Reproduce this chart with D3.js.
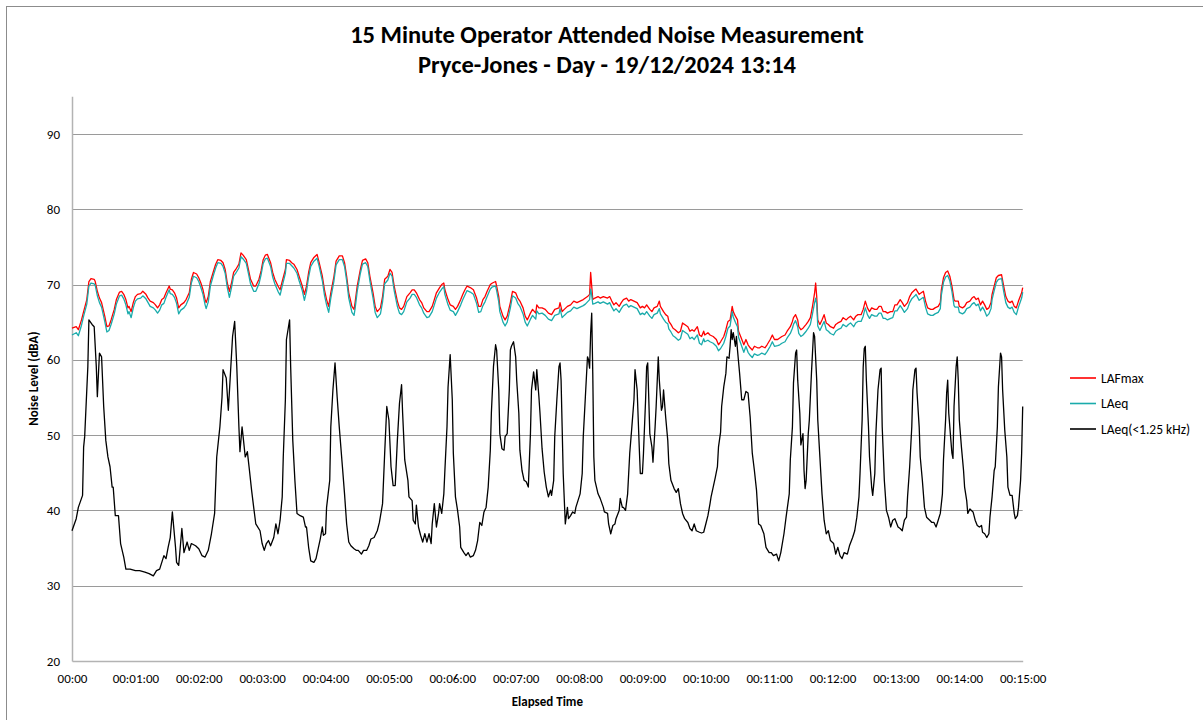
<!DOCTYPE html>
<html>
<head>
<meta charset="utf-8">
<script src="https://cdn.jsdelivr.net/npm/d3@7"></script>
<style>
  body { margin: 0; background: #fff; }
  svg { display: block; font-family: Carlito, Lato, "Liberation Sans", sans-serif; }
  .tick text { font-size: 13px; fill: #000; }
</style>
</head>
<body>
<div id="chart"></div>
<script>
// ---- data (seconds since start, dB) ----
const seriesNames = ['LAFmax', 'LAeq', 'LAeq(<1.25 kHz)'];
const yTicks = [20, 30, 40, 50, 60, 70, 80, 90];
const xTicks = d3.range(0, 901, 60);

// LAFmax / LAeq share one time base
const tMain = [
  0,4,6,9,11,14,16,18,21,22, 24,26,28,31,33,35,37,40,42,45,
  47,49,51,53,54,56,58,60,62,65, 67,70,72,74,77,79,81,83,85,87,
  89,92,93,95,97,99,101,103,106,108, 111,113,115,118,120,122,124,126,127,129,
  131,134,136,138,141,143,145,147,149,151, 153,155,158,160,162,165,167,169,172,174,
  177,179,181,183,185,188,190,192,195,197, 199,202,203,206,208,210,213,215,218,220,
  222,224,226,229,232,234,237,239,241,243, 245,248,250,253,256,258,260,262,265,267,
  268,270,273,275,278,280,282,285,287,289, 292,294,296,299,301,303,305,308,310,312,
  314,317,320,322,324,326,329,331,333,336, 338,341,343,345,348,350,352,353,356,358,
  361,363,365,368,370,372,374,377,380,383, 385,387,389,391,393,396,398,401,402,404,
  405,408,410,412,415,417,420,422,424,427, 429,431,434,436,439,440,442,445,448,451,
  454,457,461,462,464,466,469,472,475,478, 481,484,486,488,490,491,492,493,495,498,
  500,503,507,509,511,513,515,518,520,522, 525,527,529,532,535,538,540,542,544,547,
  549,551,554,556,557,560,562,564,565,567, 569,571,574,576,578,580,583,585,587,589,
  592,594,596,598,599,602,604,607,610,612, 614,617,619,621,623,625,626,628,630,631,
  633,636,638,640,642,644,646,649,651,653, 656,658,661,663,665,668,670,672,675,677,
  680,682,683,685,687,688,690,692,695,697, 699,701,703,704,705,706,708,710,712,714,
  716,718,721,723,725,728,730,733,735,737, 740,742,744,747,749,751,753,755,757,760,
  762,764,766,768,770,772,775,777,779,781, 784,786,788,791,793,795,798,799,802,804,
  806,808,810,813,815,817,820,822,823,825, 827,829,831,833,835,836,839,840,843,845,
  847,850,852,854,856,858,860,862,864,866, 868,870,871,873,875,877,880,882,884,886,
  888,890,892,894,896,899,900
];

const lafmax = [
  64.2,64.4,64.0,65.3,66.4,68.0,70.4,70.8,70.7,70.4, 69.1,68.2,67.6,65.8,64.4,64.5,65.3,66.7,68.0,69.0,
  69.1,68.7,68.0,66.9,67.1,66.4,67.6,68.4,68.7,68.8, 69.1,68.7,68.2,67.8,67.6,67.3,66.9,67.3,68.0,68.2,
  68.9,69.8,69.4,69.3,68.9,68.2,66.9,67.3,67.6,68.0, 68.9,70.7,71.6,71.4,70.9,70.2,69.3,68.0,67.6,68.4,
  70.4,71.8,72.7,73.3,73.2,72.9,72.0,70.2,69.1,70.2, 71.6,72.0,72.7,74.2,73.9,73.3,72.0,70.7,69.8,69.8,
  70.7,71.8,73.3,73.9,74.0,72.9,71.6,70.7,69.8,69.3, 70.4,72.0,73.3,73.2,72.9,72.7,72.0,71.1,69.8,68.7,
  69.8,71.6,72.9,73.6,74.0,72.9,71.1,69.3,68.0,67.1, 68.9,71.1,73.1,73.8,73.8,72.9,71.1,68.9,67.1,66.7,
  67.6,69.8,72.0,73.2,73.4,72.9,71.1,68.9,67.1,66.4, 66.9,68.4,70.7,71.1,72.0,71.6,69.8,67.8,66.9,66.7,
  67.1,68.4,68.9,69.3,69.3,68.9,68.0,67.6,66.9,66.4, 66.4,67.1,68.0,68.9,69.6,70.0,70.2,69.3,68.0,67.3,
  67.1,66.7,67.1,68.0,68.7,69.3,69.8,69.6,69.3,68.2, 67.1,67.1,68.0,68.4,69.1,70.0,70.2,70.4,69.8,68.4,
  67.1,65.8,65.3,65.8,67.6,69.1,68.9,68.2,67.8,66.9, 65.8,65.3,66.2,66.7,66.2,67.3,66.9,66.9,66.7,66.2,
  66.0,66.7,66.9,67.6,66.4,66.7,67.1,67.3,67.8,67.6, 67.8,68.0,68.2,68.4,68.7,71.6,69.8,68.0,68.2,68.4,
  68.2,68.4,68.2,68.4,67.8,67.3,67.6,67.1,67.6,68.0, 68.2,67.8,68.0,67.8,67.6,66.9,67.1,66.9,67.3,66.7,
  66.4,66.9,67.1,67.8,67.1,66.4,66.0,65.8,65.1,64.7, 64.2,64.0,63.6,63.8,64.9,64.7,64.4,63.8,64.0,63.8,
  64.4,63.3,63.1,63.8,63.3,63.6,63.3,63.1,62.7,62.0, 62.4,63.1,64.0,65.1,65.3,67.1,66.4,65.8,65.3,63.8,
  63.1,62.0,62.7,62.0,61.6,61.3,61.8,61.6,61.6,61.8, 61.6,62.0,62.7,63.3,62.7,62.7,62.9,63.1,63.3,63.8,
  64.4,65.1,65.6,66.0,65.3,64.4,64.0,64.2,64.7,65.1, 65.6,67.1,68.9,70.2,68.4,65.3,64.7,65.3,66.0,64.9,
  64.7,64.4,64.2,64.7,64.9,65.1,65.6,65.3,65.6,65.8, 65.3,65.8,66.0,66.0,66.7,67.8,66.9,66.4,66.9,66.7,
  66.7,67.1,67.1,66.4,66.4,66.2,66.4,66.4,67.3,67.3, 68.0,67.6,67.1,67.6,68.4,68.9,69.3,69.4,68.7,68.9,
  69.1,67.8,66.9,66.7,66.7,66.9,67.1,67.6,69.3,70.9, 71.6,71.8,71.1,69.8,68.0,67.8,67.8,67.1,66.9,67.1,
  67.6,67.8,68.2,68.4,68.0,68.2,67.3,67.8,67.3,66.7, 66.9,67.6,68.7,69.8,70.9,71.2,71.3,69.8,68.4,67.8,
  67.6,67.8,67.1,66.9,67.8,68.9,69.6
];

const laeq = [
  63.3,63.6,63.2,64.6,65.8,67.4,69.8,70.2,70.1,69.9, 68.5,67.6,67.0,65.1,63.7,63.9,64.7,66.1,67.4,68.5,
  68.6,68.1,67.3,66.1,66.4,65.6,66.9,67.8,68.1,68.2, 68.5,68.1,67.6,67.1,66.9,66.6,66.2,66.6,67.3,67.5,
  68.3,69.3,68.8,68.7,68.3,67.5,66.1,66.6,66.9,67.3, 68.3,70.2,71.1,70.9,70.4,69.6,68.7,67.3,66.8,67.7,
  69.8,71.3,72.2,72.9,72.8,72.4,71.5,69.6,68.3,69.6, 71.1,71.5,72.2,73.7,73.4,72.8,71.5,70.1,69.1,69.1,
  70.1,71.3,72.8,73.4,73.5,72.4,71.0,70.1,69.1,68.6, 69.8,71.5,72.8,72.8,72.5,72.2,71.5,70.5,69.2,67.9,
  69.1,71.0,72.4,73.1,73.5,72.4,70.5,68.6,67.3,66.3, 68.2,70.5,72.6,73.3,73.3,72.4,70.5,68.2,66.3,65.9,
  66.8,69.1,71.5,72.7,72.9,72.4,70.5,68.2,66.3,65.6, 66.1,67.7,70.1,70.6,71.5,71.1,69.2,67.1,66.2,66.0,
  66.4,67.7,68.2,68.7,68.7,68.3,67.3,66.9,66.2,65.6, 65.7,66.4,67.3,68.2,69.0,69.4,69.7,68.7,67.3,66.6,
  66.4,65.9,66.4,67.3,68.0,68.6,69.2,69.0,68.7,67.5, 66.3,66.4,67.2,67.7,68.4,69.4,69.7,69.8,69.2,67.7,
  66.4,65.0,64.5,65.0,66.9,68.5,68.2,67.5,67.1,66.1, 65.0,64.5,65.4,65.9,65.4,66.5,66.1,66.2,65.9,65.4,
  65.2,65.9,66.1,66.8,65.6,65.9,66.3,66.5,67.0,66.8, 67.0,67.2,67.4,67.7,68.0,69.4,68.6,67.4,67.5,67.7,
  67.5,67.7,67.4,67.6,67.0,66.5,66.8,66.3,66.8,67.2, 67.4,67.0,67.2,67.0,66.8,66.0,66.2,66.0,66.4,65.8,
  65.5,66.0,66.2,66.8,66.1,65.4,65.0,64.8,64.1,63.7, 63.2,63.0,62.6,62.8,63.9,63.7,63.4,62.8,63.0,62.7,
  63.3,62.2,62.0,62.8,62.4,62.6,62.4,62.2,61.8,61.2, 61.5,62.2,63.1,64.2,64.5,66.4,65.7,65.0,64.4,63.0,
  62.2,61.0,61.8,61.0,60.6,60.3,60.8,60.6,60.7,60.9, 60.7,61.1,61.8,62.4,61.8,61.9,62.0,62.2,62.4,62.9,
  63.5,64.2,64.7,65.2,64.4,63.5,63.1,63.3,63.8,64.2, 64.7,66.1,67.6,68.2,67.4,64.5,63.9,64.5,65.1,64.0,
  63.8,63.5,63.3,63.8,64.0,64.2,64.7,64.4,64.7,64.9, 64.4,64.9,65.1,65.1,65.8,66.9,66.0,65.5,66.0,65.8,
  65.8,66.2,66.2,65.5,65.5,65.3,65.5,65.6,66.5,66.5, 67.2,66.8,66.3,66.8,67.6,68.1,68.5,68.7,67.9,68.1,
  68.3,67.0,66.1,65.9,65.9,66.1,66.3,66.8,68.6,70.3, 71.0,71.2,70.5,69.1,67.2,67.0,67.0,66.3,66.1,66.3,
  66.8,67.0,67.4,67.6,67.2,67.4,66.5,67.0,66.5,65.8, 66.1,66.8,68.0,69.2,70.3,70.7,70.8,69.1,67.6,67.0,
  66.8,67.0,66.3,66.0,67.0,68.2,69.0
];

// low-frequency LAeq has its own time base
const tLow = [
  0,4,6,10,11,12,15,16,19,21, 23,24,26,28,30,32,34,36,38,39,
  41,44,46,49,51,55,60,64,69,73, 77,80,83,87,89,91,93,95,98,99,
  101,104,106,109,111,113,117,120,123,126, 129,132,135,137,140,142,143,146,148,150,
  152,154,156,158,159,161,162,164,166,168, 170,172,174,178,180,182,184,186,188,191,
  193,195,197,199,200,202,203,206,207,209, 211,213,216,219,221,222,224,226,229,231,
  233,235,237,238,240,241,242,244,245,247, 249,251,253,256,258,260,262,264,267,269,
  271,274,276,279,281,283,286,289,291,294, 296,298,300,302,304,306,308,310,312,313,
  315,318,319,322,323,325,326,328,330,332, 334,336,338,340,341,343,345,347,348,350,
  352,353,355,356,358,360,361,363,365,367, 368,371,373,375,377,380,382,384,386,388,
  390,392,394,396,397,399,401,402,404,405, 407,409,410,412,414,415,416,418,420,421,
  423,424,426,428,430,432,434,435,437,439, 440,442,443,445,447,449,451,453,454,456,
  457,459,461,462,463,464,465,467,469,470, 472,474,476,477,479,481,483,484,486,488,
  489,490,491,492,493,494,495,498,500,503, 504,507,508,510,512,514,515,518,519,521,
  522,524,526,528,530,532,533,535,537,538, 540,541,543,544,545,547,549,550,552,553,
  555,556,558,559,560,562,564,565,567,570, 572,574,576,578,580,583,585,587,589,591,
  594,596,598,600,602,604,605,607,609,611, 612,614,615,617,619,620,622,623,624,625,
  626,628,629,630,632,634,636,638,640,642, 644,646,648,650,652,655,657,660,662,664,
  667,669,671,674,676,679,680,682,683,685, 686,687,689,690,692,693,694,695,697,698,
  700,702,703,705,706,708,710,712,714,716, 718,721,723,725,727,729,731,734,736,739,
  741,743,745,746,748,749,750,751,752,754, 755,757,758,760,761,763,765,766,767,769,
  771,773,775,777,779,782,784,786,788,790, 791,793,795,796,798,799,800,802,803,805,
  807,809,812,814,816,818,820,822,824,825, 827,828,829,830,832,833,834,835,837,838,
  839,840,842,844,845,847,848,850,853,855, 857,859,861,862,864,866,868,869,871,873,
  874,876,877,879,880,881,883,885,886,888, 890,892,893,895,896,898,899,900
];

const laeqLow = [
  37.3,38.9,40.4,42.0,48.4,49.8,59.1,65.3,64.7,64.4, 59.1,55.1,60.9,60.4,53.8,49.3,47.1,45.8,43.1,43.1,
  39.3,39.3,35.6,33.8,32.2,32.2,32.0,32.0,31.8,31.6, 31.3,32.0,32.2,34.0,33.6,35.1,36.4,39.8,35.1,33.1,
  32.7,37.6,34.4,35.8,34.7,35.6,35.3,34.9,34.0,33.8, 34.7,36.9,39.6,47.1,51.1,55.0,58.7,57.6,53.3,58.2,
  63.1,65.1,59.1,51.1,47.8,51.1,49.8,47.1,47.8,45.3, 42.7,40.4,38.2,37.3,35.6,34.7,35.6,36.0,35.3,36.4,
  38.2,36.9,38.7,41.8,47.1,54.7,62.7,65.3,59.1,49.3, 44.0,39.6,39.3,39.1,37.8,37.8,35.1,33.3,33.1,33.6,
  34.9,36.2,37.8,36.7,36.9,40.4,41.6,44.0,51.1,56.0, 59.6,55.1,51.1,45.8,42.2,38.2,35.8,35.3,34.9,34.7,
  34.7,34.2,34.7,34.7,35.3,36.2,36.4,37.3,38.4,40.9, 47.6,53.8,52.0,45.8,43.3,43.3,49.3,54.2,56.7,52.9,
  46.7,44.0,41.8,41.3,38.7,38.2,40.7,37.8,36.7,35.8, 36.9,35.8,36.9,35.6,38.2,40.9,37.8,39.6,40.9,39.6,
  42.2,45.3,51.1,56.4,60.7,54.7,47.6,41.8,40.0,37.8, 35.1,34.4,34.0,34.4,33.8,34.0,34.7,36.0,38.4,38.0,
  39.8,40.4,43.1,48.0,52.9,59.1,62.0,61.3,56.0,50.2, 48.2,48.0,49.8,50.2,56.0,61.3,61.8,62.4,60.4,57.3,
  52.9,48.0,45.3,44.0,43.8,43.1,50.2,56.0,58.4,56.0, 58.7,55.1,53.0,48.2,45.1,43.1,41.8,42.7,42.0,44.0,
  49.8,54.7,59.1,59.6,57.3,51.1,44.9,38.2,40.4,38.9, 39.3,39.8,39.6,40.4,41.3,42.2,44.9,49.8,55.1,60.4,
  60.0,58.9,63.6,66.2,58.2,47.1,44.0,42.2,41.6,40.4, 39.8,39.6,38.2,36.9,38.0,38.2,38.9,40.0,41.6,40.4,
  40.4,40.0,42.2,47.6,51.1,54.7,58.7,56.0,48.4,44.9, 44.9,47.6,54.7,59.1,59.6,50.2,48.4,46.4,51.1,53.8,
  60.4,57.3,53.3,53.8,56.0,52.4,49.3,46.2,44.0,42.9, 42.4,42.9,40.9,39.6,38.9,38.4,37.6,37.3,38.2,37.3,
  37.1,37.0,37.1,38.2,39.3,40.9,41.8,43.1,44.4,45.8, 48.4,50.4,53.8,56.4,58.2,60.4,60.2,61.8,64.0,62.7,
  63.6,61.8,63.1,61.3,58.2,54.7,54.7,55.8,55.6,52.4, 47.6,45.3,42.7,38.2,38.0,36.9,35.1,34.4,34.4,34.0,
  34.2,33.3,34.4,36.9,39.1,42.2,46.7,51.1,56.9,60.9, 61.3,57.3,52.9,48.7,50.2,45.3,42.9,44.0,50.2,52.0,
  58.2,63.6,63.1,57.3,52.0,47.1,42.2,38.7,36.9,37.3, 36.0,35.6,34.2,35.1,34.0,33.6,34.4,34.2,35.3,36.4,
  37.3,39.1,41.8,44.9,52.0,59.0,61.5,61.8,57.3,51.1, 47.1,43.1,42.0,44.9,50.2,56.0,58.7,58.9,51.1,44.0,
  40.0,39.1,37.8,38.7,38.9,37.8,37.6,37.3,38.7,39.1, 41.8,45.8,51.1,56.0,58.7,58.9,55.6,51.1,47.1,44.0,
  40.4,39.1,38.7,38.4,38.4,37.8,38.7,39.6,42.2,46.7, 52.0,55.6,57.3,52.9,49.3,47.6,46.9,53.8,59.1,60.4,
  57.3,52.0,48.4,45.3,43.1,41.3,39.6,40.2,39.8,38.7, 38.0,37.8,38.0,37.1,36.9,36.4,36.9,39.1,41.8,45.3,
  45.8,51.1,56.4,60.9,60.4,56.0,50.7,47.1,43.1,42.0, 42.0,39.6,38.9,39.3,40.4,44.0,47.6,53.8
];

const colors = ['#ff0000', '#1aabab', '#000000'];

// ---- layout ----
const W = 1203, H = 720;
const plot = { left: 72, right: 1022.7, top: 96.3, bottom: 661 };

const x = d3.scaleLinear().domain([0, 900]).range([plot.left, plot.right]);
const y = d3.scaleLinear().domain([20, 95]).range([plot.bottom, plot.top]);

const fmtTime = s => {
  if (s === 0) return '00:00';
  const m = Math.floor(s / 60);
  return '00:' + String(m).padStart(2, '0') + ':00';
};

const svg = d3.select('#chart').append('svg')
  .attr('width', W)
  .attr('height', H);

// outer chart border (runs off the right/bottom edge like the source)
svg.append('rect')
  .attr('x', 6.5).attr('y', 6.5)
  .attr('width', 1400).attr('height', 900)
  .attr('fill', 'none')
  .attr('stroke', '#8c8c8c')
  .attr('stroke-width', 1);

// title
const title = svg.append('g').attr('text-anchor', 'middle')
  .attr('font-weight', 'bold').attr('font-size', 24.5);
title.append('text').attr('x', 607).attr('y', 43)
  .text('15 Minute Operator Attended Noise Measurement');
title.append('text').attr('x', 607).attr('y', 73)
  .text('Pryce-Jones - Day - 19/12/2024 13:14');

// gridlines
svg.append('g')
  .selectAll('line')
  .data(yTicks.filter(d => d > 20))
  .join('line')
  .attr('x1', plot.left).attr('x2', plot.right)
  .attr('y1', d => Math.round(y(d)) + 0.5)
  .attr('y2', d => Math.round(y(d)) + 0.5)
  .attr('stroke', '#9a9a9a')
  .attr('stroke-width', 1);

// axes
const yAxis = svg.append('g')
  .attr('transform', `translate(${plot.left},0)`)
  .call(d3.axisLeft(y).tickValues(yTicks).tickSize(0).tickPadding(12));
yAxis.select('.domain').attr('stroke', '#b3b3b3').attr('stroke-width', 1.5);

const xAxis = svg.append('g')
  .attr('transform', `translate(0,${plot.bottom})`)
  .call(d3.axisBottom(x).tickValues(xTicks).tickFormat(fmtTime).tickSize(0).tickPadding(13));
xAxis.select('.domain').attr('stroke', '#b3b3b3').attr('stroke-width', 1.5);

svg.selectAll('.tick text').attr('font-family', 'Carlito, Lato, sans-serif');

// axis titles
svg.append('text')
  .attr('x', (plot.left + plot.right) / 2).attr('y', 706)
  .attr('text-anchor', 'middle').attr('font-weight', 'bold').attr('font-size', 13)
  .text('Elapsed Time');
svg.append('text')
  .attr('transform', `translate(38,${(plot.top + plot.bottom) / 2}) rotate(-90)`)
  .attr('text-anchor', 'middle').attr('font-weight', 'bold').attr('font-size', 13)
  .text('Noise Level (dBA)');

// series
const line = d3.line().x(d => x(d[0])).y(d => y(d[1]));
const series = [
  d3.zip(tMain, lafmax),
  d3.zip(tMain, laeq),
  d3.zip(tLow, laeqLow)
];

svg.append('g')
  .selectAll('path')
  .data(series)
  .join('path')
  .attr('d', line)
  .attr('fill', 'none')
  .attr('stroke', (d, i) => colors[i])
  .attr('stroke-width', 1.3)
  .attr('stroke-linejoin', 'round');

// legend
const legend = svg.append('g')
  .selectAll('g')
  .data(seriesNames)
  .join('g')
  .attr('transform', (d, i) => `translate(1070,${378 + i * 25.5})`);
legend.append('line')
  .attr('x1', 0).attr('x2', 26)
  .attr('stroke', (d, i) => colors[i])
  .attr('stroke-width', 1.6);
legend.append('text')
  .attr('x', 31).attr('dy', '0.35em')
  .attr('font-size', 13.5)
  .text(d => d);
</script>
</body>
</html>
